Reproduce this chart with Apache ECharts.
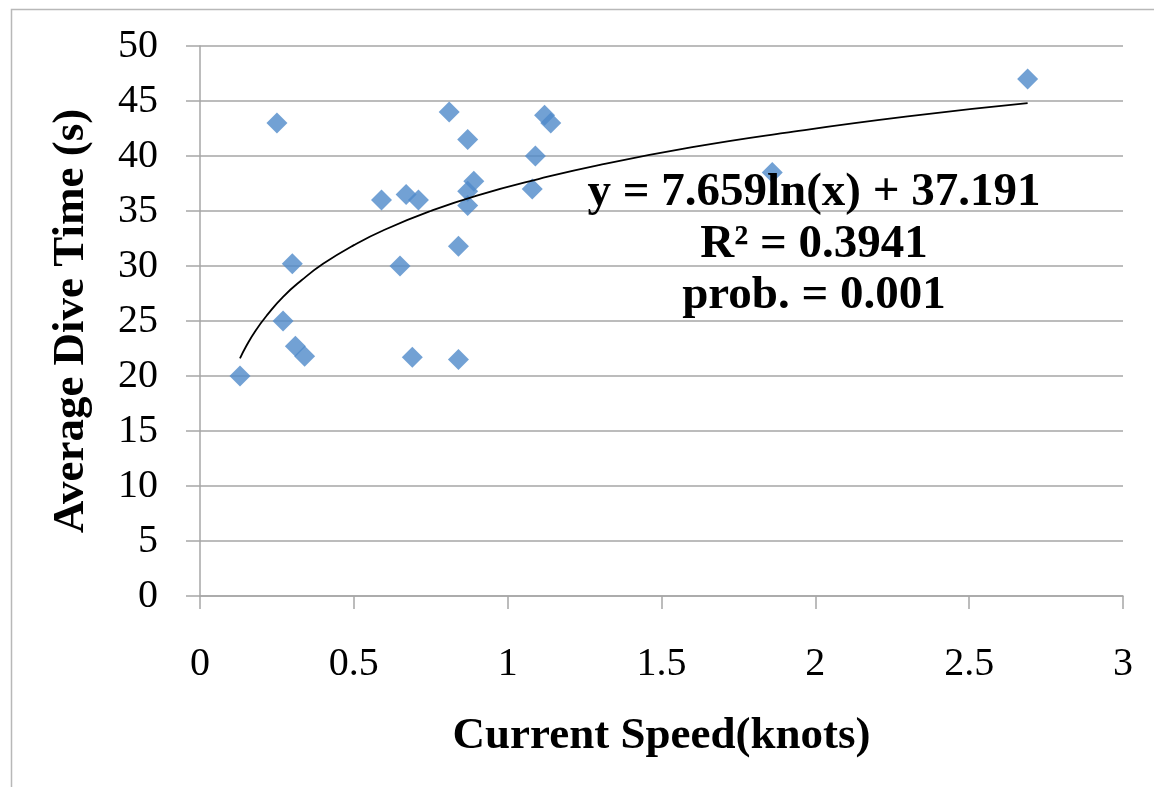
<!DOCTYPE html>
<html>
<head>
<meta charset="utf-8">
<script src="https://cdn.jsdelivr.net/npm/echarts@6/dist/echarts.min.js"></script>
<style>
html,body{margin:0;padding:0;background:#fff;}
#chart{width:1154px;height:787px;}
</style>
</head>
<body>
<div id="chart"></div>
<script>
// Observed data (Current speed in knots, average dive time in seconds)
var currentSpeed = [0.13, 0.25, 0.30, 0.27, 0.31, 0.34, 0.59, 0.67, 0.71, 0.65, 0.69, 0.81, 0.87, 0.89, 0.87, 0.87, 0.84, 0.84, 1.09, 1.08, 1.12, 1.14, 1.86, 2.69];
var diveTime     = [20.0, 43.0, 30.2, 25.0, 22.7, 21.8, 36.0, 36.5, 36.0, 30.0, 21.7, 44.0, 41.5, 37.7, 36.8, 35.5, 31.8, 21.5, 40.0, 37.0, 43.7, 43.0, 38.5, 47.0];

// Trend line points
var trendX = [0.13, 0.15, 0.18, 0.22, 0.27, 0.33, 0.40, 0.50, 0.60, 0.75, 0.90, 1.10, 1.30, 1.60, 1.90, 2.30, 2.69];
var trendY = [21.6, 22.7, 24.1, 25.6, 27.2, 28.7, 30.2, 31.9, 33.3, 35.0, 36.4, 37.9, 39.2, 40.8, 42.1, 43.6, 44.8];

var xTicks = ['0', '0.5', '1', '1.5', '2', '2.5', '3'];
var yTicks = ['0', '5', '10', '15', '20', '25', '30', '35', '40', '45', '50'];

var annotationLines = ['y = 7.659ln(x) + 37.191', 'R\u00B2 = 0.3941', 'prob. = 0.001'];
var xTitle = 'Current Speed(knots)';
var yTitle = 'Average Dive Time (s)';

var scatterData = currentSpeed.map(function (x, i) { return [x, diveTime[i]]; });
var trendData = trendX.map(function (x, i) { return [x, trendY[i]]; });

var chart = echarts.init(document.getElementById('chart'));
var gridColor = '#a6a6a6';
var tickFont = 'Liberation Serif';
var boldFont = 'Liberation Serif';

chart.setOption({
  animation: false,
  backgroundColor: '#ffffff',
  grid: { left: 200, right: 31, top: 46, bottom: 191, containLabel: false },
  xAxis: {
    type: 'value', min: 0, max: 3, interval: 0.5,
    name: xTitle, nameLocation: 'middle', nameGap: 118,
    nameTextStyle: { fontFamily: boldFont, fontWeight: 'bold', fontSize: 45, color: '#000' },
    axisLine: { show: true, onZero: false, lineStyle: { color: gridColor, width: 1.5 } },
    axisTick: { show: true, length: 13, lineStyle: { color: gridColor, width: 1.5 } },
    axisLabel: { margin: 48, fontFamily: tickFont, fontSize: 40, color: '#000',
      formatter: function (v) { return xTicks[Math.round(v / 0.5)]; } },
    splitLine: { show: false }
  },
  yAxis: {
    type: 'value', min: 0, max: 50, interval: 5,
    name: yTitle, nameLocation: 'middle', nameGap: 106, nameRotate: 90,
    nameTextStyle: { fontFamily: boldFont, fontWeight: 'bold', fontSize: 45, color: '#000' },
    axisLine: { show: true, onZero: false, lineStyle: { color: gridColor, width: 1.5 } },
    axisTick: { show: true, length: 14, lineStyle: { color: gridColor, width: 1.5 } },
    axisLabel: { margin: 42, fontFamily: tickFont, fontSize: 40, color: '#000',
      formatter: function (v) { return yTicks[Math.round(v / 5)]; } },
    splitLine: { show: true, lineStyle: { color: gridColor, width: 1.5 } }
  },
  series: [
    {
      type: 'scatter', data: scatterData, symbol: 'diamond', symbolSize: 21,
      itemStyle: { color: '#4f89c9' }, z: 2
    },
    {
      type: 'line', data: trendData, smooth: true, showSymbol: false, symbol: 'none',
      lineStyle: { color: '#000', width: 1.8 }, z: 3, silent: true
    }
  ],
  graphic: [
    { type: 'rect', left: 9, top: 7, shape: { width: 1300, height: 900 },
      style: { fill: 'none', stroke: '#b8b8b8', lineWidth: 1.5 }, silent: true, z: -1 },
    { type: 'text', x: 814, y: 193, style: { text: annotationLines[0], textAlign: 'center', textVerticalAlign: 'middle',
      font: 'bold 47px "Liberation Serif"', fill: '#000' }, z: 10 },
    { type: 'text', x: 814, y: 245, style: { text: annotationLines[1], textAlign: 'center', textVerticalAlign: 'middle',
      font: 'bold 47px "Liberation Serif"', fill: '#000' }, z: 10 },
    { type: 'text', x: 814, y: 296, style: { text: annotationLines[2], textAlign: 'center', textVerticalAlign: 'middle',
      font: 'bold 47px "Liberation Serif"', fill: '#000' }, z: 10 }
  ]
});
</script>
</body>
</html>
